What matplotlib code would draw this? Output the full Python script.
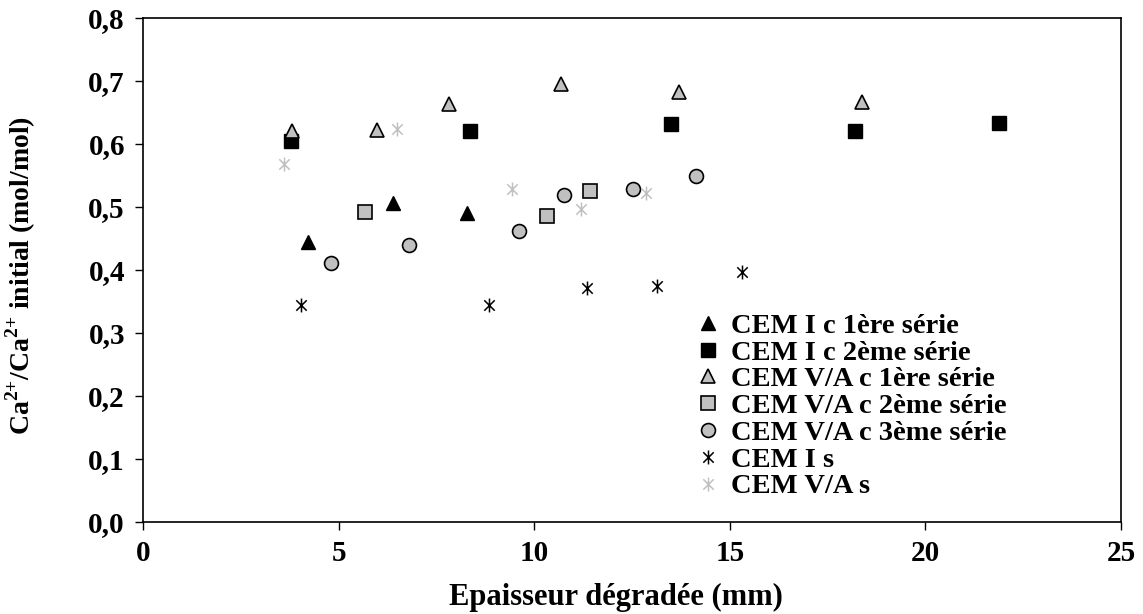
import matplotlib
matplotlib.use("Agg")
import matplotlib.pyplot as plt
from matplotlib.path import Path

# données
cem1_s1_x = [4.21, 6.40, 8.27]
cem1_s1_y = [0.445, 0.506, 0.490]
cem1_s2_x = [3.78, 8.36, 13.49, 18.21, 21.87]
cem1_s2_y = [0.604, 0.621, 0.632, 0.621, 0.634]
cemva_s1_x = [3.80, 5.97, 7.83, 10.68, 13.70, 18.37]
cemva_s1_y = [0.620, 0.622, 0.663, 0.695, 0.682, 0.666]
cemva_s2_x = [5.67, 10.32, 11.43]
cemva_s2_y = [0.492, 0.486, 0.526]
cemva_s3_x = [4.81, 6.81, 9.62, 10.77, 12.53, 14.13]
cemva_s3_y = [0.411, 0.439, 0.462, 0.519, 0.528, 0.549]
cem1_s_x = [4.03, 8.84, 11.36, 13.15, 15.30]
cem1_s_y = [0.344, 0.344, 0.371, 0.374, 0.397]
cemva_s_x = [3.60, 6.50, 9.44, 11.19, 12.87]
cemva_s_y = [0.568, 0.624, 0.528, 0.497, 0.523]

labels = ["CEM I c 1ère série", "CEM I c 2ème série", "CEM V/A c 1ère série",
          "CEM V/A c 2ème série", "CEM V/A c 3ème série", "CEM I s", "CEM V/A s"]

plt.rcParams['font.family'] = ['Liberation Serif', 'DejaVu Serif']
plt.rcParams['font.weight'] = 'bold'
plt.rcParams['mathtext.fontset'] = 'custom'
plt.rcParams['mathtext.rm'] = 'Liberation Serif:bold'
plt.rcParams['mathtext.bf'] = 'Liberation Serif:bold'

# astérisque façon Excel : croix + trait vertical
a = 0.75
star = Path([(0, -1), (0, 1), (-a, -a), (a, a), (-a, a), (a, -a)],
            [Path.MOVETO, Path.LINETO, Path.MOVETO, Path.LINETO, Path.MOVETO, Path.LINETO])

gray = '#c0c0c0'

fig = plt.figure(figsize=(11.43, 6.14), dpi=100)
ax = fig.add_axes([0.1251, 0.1498, 0.8557, 0.8209])

ax.plot(cem1_s1_x, cem1_s1_y, ls='none', marker='^', ms=10, mfc='black', mec='black', label=labels[0])
ax.plot(cem1_s2_x, cem1_s2_y, ls='none', marker='s', ms=10, mfc='black', mec='black', label=labels[1])
ax.plot(cemva_s1_x, cemva_s1_y, ls='none', marker='^', ms=10, mfc=gray, mec='black', mew=1.2, label=labels[2])
ax.plot(cemva_s2_x, cemva_s2_y, ls='none', marker='s', ms=10, mfc=gray, mec='black', mew=1.2, label=labels[3])
ax.plot(cemva_s3_x, cemva_s3_y, ls='none', marker='o', ms=10, mfc=gray, mec='black', mew=1.2, label=labels[4])
ax.plot(cem1_s_x, cem1_s_y, ls='none', marker=star, ms=10, mfc='none', mec='black', mew=1.1, label=labels[5])
ax.plot(cemva_s_x, cemva_s_y, ls='none', marker=star, ms=10, mfc='none', mec=gray, mew=1.1, label=labels[6])

ax.set_xlim(0, 25)
ax.set_ylim(0, 0.8)
ax.set_xticks([0, 5, 10, 15, 20, 25])
ax.set_yticks([0.0, 0.1, 0.2, 0.3, 0.4, 0.5, 0.6, 0.7, 0.8])
ax.set_yticklabels([f"{v:.1f}".replace('.', ',') for v in ax.get_yticks()])
ax.tick_params(direction='out', length=6, width=1, labelsize=21, pad=7)
for lab in ax.get_xticklabels() + ax.get_yticklabels():
    lab.set_fontweight('bold')
for sp in ax.spines.values():
    sp.set_linewidth(1.2)

ax.set_xlabel("Epaisseur dégradée (mm)", fontsize=22, fontweight='bold')
ax.set_ylabel(r"Ca$^{2{+}}$/Ca$^{2{+}}$ initial (mol/mol)", fontsize=20, fontweight='bold')
ax.xaxis.set_label_coords(0.484, -0.12)
ax.yaxis.set_label_coords(-0.107, 0.49)

leg = ax.legend(loc='upper left', bbox_to_anchor=(0.5675, 0.415), frameon=False,
                prop={'size': 20.5, 'weight': 'bold'}, handlelength=0.7, handletextpad=0.45,
                labelspacing=0.03, borderpad=0, borderaxespad=0)

fig.savefig("out.png", dpi=100)
